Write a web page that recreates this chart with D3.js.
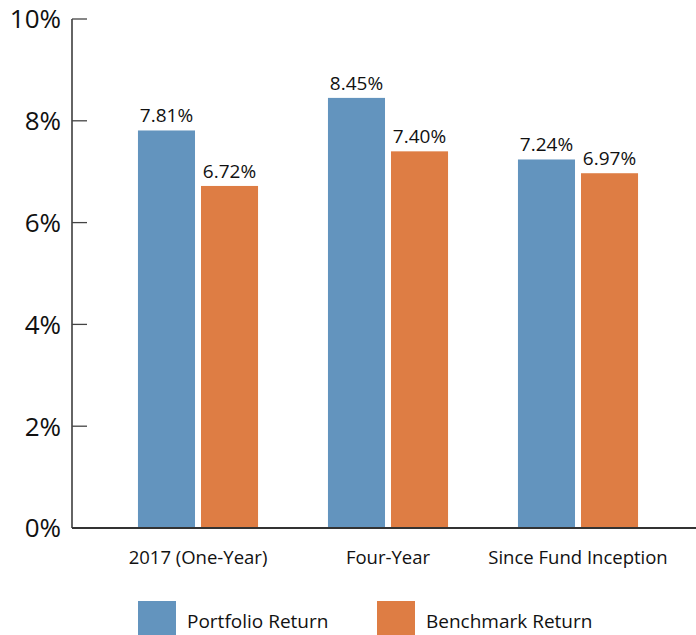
<!DOCTYPE html>
<style>
body { margin: 0; background: #fff; }
text { font-family: "Open Sans", "Noto Sans", sans-serif; fill: #111; }
</style>
<svg width="696" height="635"></svg>
<script src="https://d3js.org/d3.v7.min.js"></script>
<script>

var categories = ["2017 (One-Year)", "Four-Year", "Since Fund Inception"];
var seriesNames = ["Portfolio Return", "Benchmark Return"];
var portfolio = [7.81, 8.45, 7.24];
var benchmark = [6.72, 7.40, 6.97];
var yTicks = [0, 2, 4, 6, 8, 10];
var colors = ["#6394be", "#de7d44"];

var svg = d3.select("svg");

var x0 = d3.scaleBand()
    .domain(categories)
    .range([103, 673])
    .paddingInner(0.368)
    .paddingOuter(0.184);

var x1 = d3.scaleBand()
    .domain(seriesNames)
    .range([0, x0.bandwidth()])
    .paddingInner(0.095);

var y = d3.scaleLinear()
    .domain([0, 10])
    .range([528, 19]);

var data = categories.map(function(c, i) {
  return {cat: c, values: [
    {key: seriesNames[0], value: portfolio[i]},
    {key: seriesNames[1], value: benchmark[i]}
  ]};
});

// bars
var groups = svg.append("g")
  .selectAll("g")
  .data(data)
  .enter().append("g")
    .attr("transform", function(d) { return "translate(" + x0(d.cat) + ",0)"; });

groups.selectAll("rect")
  .data(function(d) { return d.values; })
  .enter().append("rect")
    .attr("x", function(d) { return x1(d.key); })
    .attr("y", function(d) { return y(d.value); })
    .attr("width", x1.bandwidth())
    .attr("height", function(d) { return y(0) - y(d.value); })
    .attr("fill", function(d, i) { return colors[i]; });

groups.selectAll("text.val")
  .data(function(d) { return d.values; })
  .enter().append("text")
    .attr("class", "val")
    .attr("x", function(d) { return x1(d.key) + x1.bandwidth() / 2; })
    .attr("y", function(d) { return y(d.value) - 8; })
    .attr("text-anchor", "middle")
    .attr("font-size", 19)
    .text(function(d) { return d.value.toFixed(2) + "%"; });

// y axis
var yAxis = svg.append("g")
    .attr("transform", "translate(72,0)");

yAxis.append("line")
    .attr("x1", 0).attr("x2", 0)
    .attr("y1", y(10)).attr("y2", y(0))
    .attr("stroke", "#111")
    .attr("stroke-width", 1.3);

yAxis.selectAll("line.tick")
  .data(yTicks)
  .enter().append("line")
    .attr("class", "tick")
    .attr("x1", 0).attr("x2", 15)
    .attr("y1", function(d) { return y(d); })
    .attr("y2", function(d) { return y(d); })
    .attr("stroke", "#444")
    .attr("stroke-width", 1.3);

yAxis.selectAll("text")
  .data(yTicks)
  .enter().append("text")
    .attr("x", -11)
    .attr("y", function(d) { return y(d); })
    .attr("dy", "0.36em")
    .attr("text-anchor", "end")
    .attr("font-size", 26)
    .text(function(d) { return d + "%"; });

// x axis baseline
svg.append("line")
    .attr("x1", 72).attr("x2", 696)
    .attr("y1", y(0)).attr("y2", y(0))
    .attr("stroke", "#333")
    .attr("stroke-width", 2);

svg.append("g")
  .selectAll("text")
  .data(categories)
  .enter().append("text")
    .attr("x", function(d) { return x0(d) + x0.bandwidth() / 2; })
    .attr("y", 564)
    .attr("text-anchor", "middle")
    .attr("font-size", 18.5)
    .text(function(d) { return d; });

// legend
var legend = svg.append("g")
  .selectAll("g")
  .data(seriesNames)
  .enter().append("g")
    .attr("transform", function(d, i) { return "translate(" + (138 + i * 239) + ",601)"; });

legend.append("rect")
    .attr("width", 38)
    .attr("height", 34)
    .attr("fill", function(d, i) { return colors[i]; });

legend.append("text")
    .attr("x", 49)
    .attr("y", 27)
    .attr("font-size", 19)
    .text(function(d) { return d; });

</script>
